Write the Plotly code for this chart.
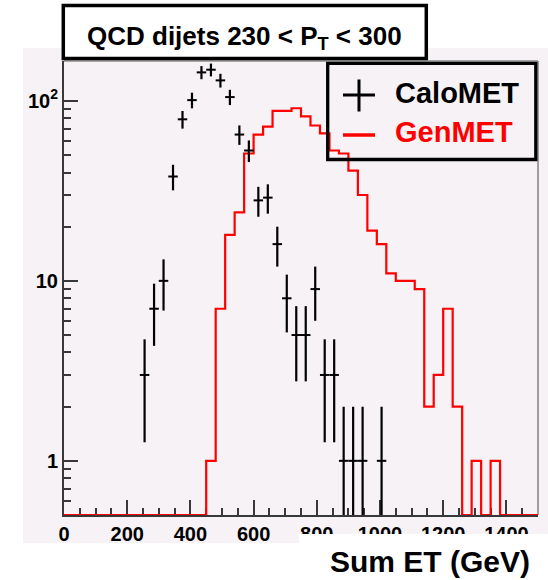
import numpy as np
import plotly.graph_objects as go

# ---------------- data ----------------
bin_width = 30
x_lo, x_hi = 0, 1500

# GenMET counts in 30-GeV bins from 0 to 1500 GeV
genmet_counts = [0, 0, 0, 0, 0, 0, 0, 0, 0, 0, 0, 0, 0, 0, 0,
                 1, 7, 18, 24, 51, 65, 72, 88, 88, 91, 82, 73, 66, 53, 51,
                 41, 30, 19, 16, 11, 10, 10, 9, 2, 3, 7, 2, 0, 1, 0,
                 1, 0, 0, 0, 0]

# CaloMET bin centres and counts
calo_centers = [255, 285, 315, 345, 375, 405, 435, 465, 495, 525, 555, 585,
                615, 645, 675, 705, 735, 765, 795, 825, 855, 885, 915, 945, 1005]
calo_counts = [3, 7, 10, 38, 79, 101, 144, 149, 130, 105, 65, 53,
               28, 29, 16, 8, 5, 5, 9, 3, 3, 1, 1, 1, 1]

x_ticks = [0, 200, 400, 600, 800, 1000, 1200, 1400]
y_tickvals = [1, 10, 100]
y_ticktext = ["1", "10", "10<sup>2</sup>"]
y_minor = [0.6, 0.7, 0.8, 0.9, 2, 3, 4, 5, 6, 7, 8, 9, 20, 30, 40, 50, 60, 70, 80, 90]

title_text = "QCD dijets 230 &lt; P<sub>T</sub> &lt; 300"
x_title = "Sum ET (GeV)"
legend_names = ["CaloMET", "GenMET"]

# ---------------- styling ----------------
W, H = 548, 580
ML, MR, MT, MB = 64, 10, 61, 65
PW, PH = W - ML - MR, H - MT - MB
PAD = "#f6f2f6"
AXC = "#383838"
FONT = "Liberation Sans"
y_min = 0.5
y_range = [np.log10(y_min), 2.2216]


def px(x):
    return (x - ML) / PW


def py(y):
    return (H - MB - y) / PH


edges = np.arange(x_lo, x_hi + bin_width, bin_width)
gen = np.array(genmet_counts, dtype=float)
gen_disp = np.where(gen > 0, gen, y_min)
gen_y = np.append(gen_disp, gen_disp[-1])

calo = np.array(calo_counts, dtype=float)
calo_err = np.sqrt(calo)

fig = go.Figure()
fig.add_trace(go.Scatter(
    x=edges, y=gen_y, mode="lines", line=dict(color="#ff0000", width=2.2, shape="hv"),
    name=legend_names[1], hoverinfo="skip"))
fig.add_trace(go.Scatter(
    x=calo_centers, y=calo, mode="markers",
    marker=dict(size=0.1, color="black"),
    error_y=dict(type="data", array=calo_err, visible=True, color="black", thickness=2.2, width=0),
    error_x=dict(type="constant", value=bin_width / 2, visible=True, color="black", thickness=2, width=0),
    name=legend_names[0]))

tickfont = dict(family=FONT, size=20, color="black", weight="bold")
fig.update_layout(
    width=W, height=H, margin=dict(l=ML, r=MR, t=MT, b=MB),
    paper_bgcolor="white", plot_bgcolor=PAD, showlegend=False,
    xaxis=dict(range=[x_lo, x_hi], showline=True, linecolor=AXC, linewidth=2,
               ticks="inside", ticklen=15, tickwidth=1.5, tickcolor=AXC,
               tickvals=x_ticks, showgrid=False, zeroline=False, tickfont=tickfont,
               minor=dict(ticks="inside", ticklen=7, dtick=50, tick0=0, tickwidth=1.5,
                          tickcolor=AXC, showgrid=False),
               layer="below traces"),
    yaxis=dict(type="log", range=y_range, showline=True, linecolor=AXC, linewidth=2,
               ticks="inside", ticklen=14, tickwidth=1.5, tickcolor=AXC,
               tickmode="array", tickvals=y_tickvals, ticktext=y_ticktext,
               showgrid=False, zeroline=False, tickfont=tickfont,
               minor=dict(ticks="inside", ticklen=7, tickmode="array", tickvals=y_minor,
                          tickwidth=1.5, tickcolor=AXC, showgrid=False),
               layer="below traces"),
)

shapes = [
    # pad background
    dict(type="rect", xref="paper", yref="paper", x0=px(23), x1=px(548), y0=py(543), y1=py(48),
         fillcolor=PAD, line=dict(width=0), layer="below"),
    # frame top / right
    dict(type="line", xref="paper", yref="paper", x0=0, x1=1, y0=1, y1=1,
         line=dict(color="#8a8a8a", width=1.6), layer="below"),
    dict(type="line", xref="paper", yref="paper", x0=1, x1=1, y0=0, y1=1,
         line=dict(color="#8a8a8a", width=1.6), layer="below"),
    # white box behind x title
    dict(type="rect", xref="paper", yref="paper", x0=px(299), x1=px(560), y0=py(590), y1=py(534),
         fillcolor="white", line=dict(width=0), layer="above"),
    # title box
    dict(type="rect", xref="paper", yref="paper", x0=px(63.3), x1=px(426.3), y0=py(58.5), y1=py(5.6),
         fillcolor="white", line=dict(color="black", width=3.5), layer="above"),
    # legend box
    dict(type="rect", xref="paper", yref="paper", x0=px(327.7), x1=px(535.8), y0=py(159.5), y1=py(63.3),
         line=dict(color="black", width=3.3), layer="above"),
    # legend keys
    dict(type="line", xref="paper", yref="paper", x0=px(343), x1=px(375), y0=py(95), y1=py(95),
         line=dict(color="black", width=3), layer="above"),
    dict(type="line", xref="paper", yref="paper", x0=px(359), x1=px(359), y0=py(79.5), y1=py(111.5),
         line=dict(color="black", width=3), layer="above"),
    dict(type="line", xref="paper", yref="paper", x0=px(343), x1=px(375), y0=py(135), y1=py(135),
         line=dict(color="#ff0000", width=3.5), layer="above"),
]
fig.update_layout(shapes=shapes)

annos = [
    dict(text=title_text, x=px(244.5), y=py(37), xanchor="center", yanchor="middle",
         font=dict(family=FONT, size=26, color="black", weight="bold")),
    dict(text=legend_names[0], x=px(394), y=py(93.5), xanchor="left", yanchor="middle",
         font=dict(family=FONT, size=29, color="black", weight="bold")),
    dict(text=legend_names[1], x=px(394), y=py(131.5), xanchor="left", yanchor="middle",
         font=dict(family=FONT, size=29, color="#ff0000", weight="bold")),
    dict(text=x_title, x=px(531), y=py(561), xanchor="right", yanchor="middle",
         font=dict(family=FONT, size=30, color="black", weight="bold")),
]
for a in annos:
    a.update(xref="paper", yref="paper", showarrow=False, borderpad=0)
fig.update_layout(annotations=annos)

fig.write_html("out.html")
